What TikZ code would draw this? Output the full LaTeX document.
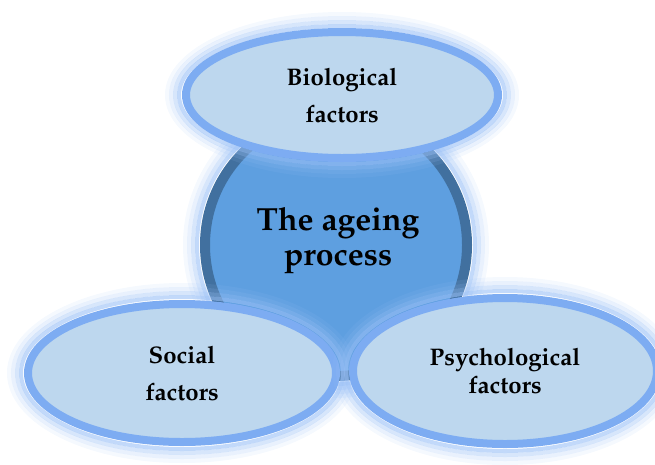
\documentclass[tikz,border=0pt]{standalone}
\usepackage[T1]{fontenc}
\usepackage{mathpazo}
\usetikzlibrary{shapes.geometric}
\definecolor{fillL}{HTML}{BDD7EE}
\definecolor{ringB}{HTML}{7DACF2}
\definecolor{glowB}{HTML}{9AC0F6}
\definecolor{coreB}{HTML}{5E9FE0}
\definecolor{coreR}{HTML}{41709F}
\newcommand\glowell[4]{%
  \foreach \d/\o in {3/0.6,7/0.4,11/0.22,15/0.1}{%
    \draw[glowB, line width=4pt, opacity=\o] (#1,#2) ellipse [x radius=#3+\d, y radius=#4+\d];}}
\tikzset{
  factor/.style={ellipse, draw=ringB, line width=8pt, fill=fillL, inner sep=0pt,
    align=center, font=\bfseries\fontsize{24}{37}\selectfont},
  corecirc/.style={circle, draw=coreR, line width=10pt, fill=coreB, minimum size=262pt, inner sep=0pt},
  coretext/.style={align=center, font=\bfseries\fontsize{32}{35}\selectfont}
}
\begin{document}
\begin{tikzpicture}[x=1pt,y=-1pt]
\useasboundingbox (0,0) rectangle (655,464);
% central circle
\glowell{336}{245}{136}{136}
\node[corecirc] (core) at (336,245) {};
\node[coretext] (coretxt) at (338,241) {The ageing\\process};
% top ellipse
\glowell{342}{95}{160}{66}
\node[factor, minimum width=312pt, minimum height=126pt] (bio) at (342,95) {Biological\\factors};
% bottom left
\glowell{182}{373}{158}{73}
\node[factor, minimum width=308pt, minimum height=138pt] (soc) at (182,373) {Social\\factors};
% bottom right
\glowell{505}{371}{156}{77}
\node[factor, minimum width=304pt, minimum height=146pt, font=\bfseries\fontsize{24}{28}\selectfont] (psy) at (505,371) {Psychological\\factors};
\end{tikzpicture}
\end{document}
